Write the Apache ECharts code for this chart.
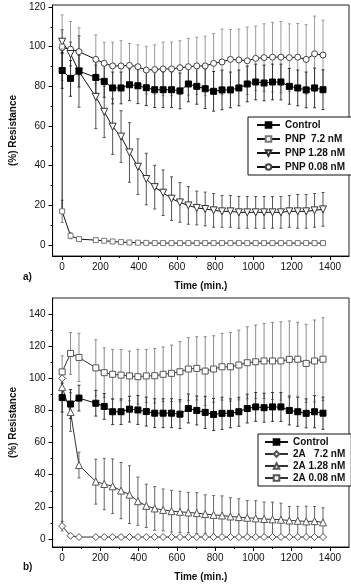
<!DOCTYPE html>
<html>
<head>
<meta charset="utf-8">
<script src="https://cdn.jsdelivr.net/npm/echarts@6/dist/echarts.min.js"></script>
<style>
html, body { margin: 0; padding: 0; background: #fff; }
#chart { width: 351px; height: 584px; }
</style>
</head>
<body>
<div id="chart"></div>
<script>
// sampling times (min.)
const times = [0, 44, 88, 176, 220, 264, 308, 352, 396, 440, 484, 528, 572, 616, 660, 704,
  748, 792, 836, 880, 924, 968, 1012, 1056, 1100, 1144, 1188, 1232, 1276, 1320, 1364];

// control (same in both panels)
const ctrl = [88, 84, 87.7, 84.5, 82.5, 79.2, 79.2, 80.8, 80.3, 79.3, 78.3, 78.3, 78.3, 77.7, 81.2, 80,
  78.8, 77.5, 78.2, 78.2, 79.2, 81.2, 82.2, 81.7, 82.2, 82.2, 80, 79.2, 78.2, 79.2, 78.3];
const ctrlErr = [9, 9, 8, 8, 8, 8, 8, 8, 9, 9, 9, 9, 9, 9, 9, 9, 10, 10, 10, 9, 9, 9, 9, 9, 9, 9, 9, 9, 9, 10, 10];

// panel a) PNP
const pnp72Start = 100;
const pnp72 = [17, 4.7, 3, 2.5, 2.2, 1.8, 1.5, 1.3, 1.2, 1.1, 1, 1, 1, 1, 1, 1,
  1, 1, 1, 1, 1, 1, 1, 1, 1, 1, 1, 1, 1, 1, 1];
const pnp72Err = [5.6, 1.5, 1, 0.8, 0.8, 0.6, 0.5, 0.5, 0.5, 0.5, 0.5, 0.5, 0.5, 0.5, 0.5, 0.5,
  0.5, 0.5, 0.5, 0.5, 0.5, 0.5, 0.5, 0.5, 0.5, 0.5, 0.5, 0.5, 0.5, 0.5, 0.5];
const pnp128 = [102.5, 96.3, 87.5, 74.7, 67.2, 59.7, 54.7, 46.7, 39.5, 33.3, 29.2, 26.4, 23.4, 21.5, 20, 18.7,
  18.2, 17.5, 17, 17, 16.5, 16.5, 16.5, 16.5, 16.5, 16.5, 17, 17, 17, 17.5, 18];
const pnp128Err = [6, 6, 18, 16, 13, 14, 13, 15, 14, 13, 11, 11.5, 11, 10, 9.5, 8.5,
  8.5, 8.5, 8, 8, 8, 8, 8, 8, 8, 8, 8, 8.5, 8.5, 8.5, 8.5];
const pnp008 = [99.5, 98.7, 97.5, 93.6, 91.6, 90.3, 90.3, 90.6, 89.9, 88.2, 88.5, 88.8, 88.8, 89.4, 89.9, 90.3,
  90.3, 91.6, 92.3, 93.6, 93.3, 92.9, 94.1, 94.5, 94.7, 94.7, 94.5, 94.7, 93.6, 96.4, 95.8];
const pnp008Err = [16.5, 14, 12, 12.3, 10.6, 12, 12.7, 11, 11, 12, 12.4, 13.5, 13.5, 13.6, 14.3, 14.4,
  15, 15, 16.5, 15, 15.5, 17, 16.3, 17, 17.5, 18, 17, 17, 17.5, 19, 17.5];

// panel b) 2A
const a72Start = 100;
const a72 = [8, 2, 1.2, 1.2, 1.2, 1.2, 1.2, 1.2, 1.2, 1.2, 1.2, 1.2, 1.2, 1.2, 1.2, 1.2,
  1.2, 1.2, 1.2, 1.2, 1.2, 1.2, 1.2, 1.2, 1.2, 1.2, 1.2, 1.2, 1.2, 1.2, 1.2];
const a72Err = [3, 1.2, 0.5, 0.5, 0.5, 0.5, 0.5, 0.5, 0.5, 0.5, 0.5, 0.5, 0.5, 0.5, 0.5, 0.5,
  0.5, 0.5, 0.5, 0.5, 0.5, 0.5, 0.5, 0.5, 0.5, 0.5, 0.5, 0.5, 0.5, 0.5, 0.5];
const a128 = [94.5, 79, 46, 35.7, 34.2, 32.8, 30.1, 27.6, 23.5, 20.6, 19, 18.1, 17.3, 16.9, 16.5, 16.1,
  15.5, 15, 14.6, 14, 13.6, 13.2, 12.8, 12.4, 12.2, 12, 11.5, 11.3, 10.9, 11.1, 10.3];
const a128Err = [5, 12, 8, 14, 16, 17, 17.5, 18, 15, 13.5, 13.6, 13, 13, 12.8, 12.5, 12.7,
  12, 12, 12.2, 11.6, 11.4, 10.7, 11, 10.6, 10.7, 10.3, 8.7, 9, 9.5, 9.1, 9.1];
const a008 = [104, 115.5, 113, 106.5, 103.5, 102.5, 102, 101.5, 101, 101.5, 101.6, 102.5, 103.1, 104.1, 105.8, 106.2,
  104.5, 105.8, 107.2, 107.2, 108.3, 109.7, 110.3, 110.8, 110.8, 110.8, 111.8, 111.9, 109.3, 110.8, 111.9];
const a008Err = [10, 13, 15, 17.5, 15.5, 15.5, 16, 15.5, 17, 16.5, 17, 17, 17.6, 18.7, 19.5, 19.7,
  21.4, 20.7, 20.8, 21.4, 21.7, 22.4, 22.9, 23.4, 24, 24.4, 23.9, 23, 24.3, 25.5, 25.8];

// axis ticks
const xLabels = [0, 200, 400, 600, 800, 1000, 1200, 1400];
const xMinor = [100, 300, 500, 700, 900, 1100, 1300];
const yLabelsA = [0, 20, 40, 60, 80, 100, 120];
const yMinorA = [10, 30, 50, 70, 90, 110];
const yLabelsB = [0, 20, 40, 60, 80, 100, 120, 140];
const yMinorB = [10, 30, 50, 70, 90, 110, 130];

const FONT = 'Liberation Sans';

function pts(vals) {
  return times.map((t, i) => [t, vals[i]]);
}
function bars(vals, errs) {
  return times.map((t, i) => [t, vals[i] - errs[i], vals[i] + errs[i]]);
}

// each panel has two x axes and two y axes (major + minor ticks)
function errSeries(idx, data, color) {
  return {
    type: 'custom',
    xAxisIndex: idx * 2,
    yAxisIndex: idx * 2,
    data: data,
    z: 1,
    silent: true,
    renderItem: function (params, api) {
      const lo = api.coord([api.value(0), api.value(1)]);
      const hi = api.coord([api.value(0), api.value(2)]);
      const w = 1.5;
      const st = { stroke: color, lineWidth: 1 };
      return {
        type: 'group',
        children: [
          { type: 'line', shape: { x1: lo[0], y1: lo[1], x2: hi[0], y2: hi[1] }, style: st },
          { type: 'line', shape: { x1: lo[0] - w, y1: lo[1], x2: lo[0] + w, y2: lo[1] }, style: st },
          { type: 'line', shape: { x1: hi[0] - w, y1: hi[1], x2: hi[0] + w, y2: hi[1] }, style: st }
        ]
      };
    }
  };
}

function lineSeries(idx, name, data, symbol, fill, border, lineColor, size, rotate) {
  return {
    type: 'line',
    name: name,
    xAxisIndex: idx * 2,
    yAxisIndex: idx * 2,
    data: data,
    symbol: symbol,
    symbolSize: size,
    symbolRotate: rotate || 0,
    showAllSymbol: true,
    z: 3,
    lineStyle: { color: lineColor, width: 1 },
    itemStyle: { color: fill, borderColor: border, borderWidth: 1 }
  };
}

function xAxes(gi) {
  return [{
    type: 'value', gridIndex: gi, min: -50, max: 1500,
    name: 'Time (min.)', nameLocation: 'middle', nameGap: 25,
    nameTextStyle: { fontFamily: FONT, fontSize: 10, fontWeight: 'bold', color: '#111' },
    axisLine: { onZero: false, lineStyle: { color: '#000', width: 1 } },
    axisTick: { inside: false, customValues: xLabels, length: 4, lineStyle: { color: '#000' } },
    axisLabel: { customValues: xLabels, margin: 6, fontFamily: FONT, fontSize: 10, color: '#111',
      formatter: v => String(v) },
    splitLine: { show: false }
  }, {
    type: 'value', gridIndex: gi, min: -50, max: 1500, position: 'bottom',
    axisLine: { show: false, onZero: false },
    axisTick: { inside: false, customValues: xMinor, length: 2, lineStyle: { color: '#000' } },
    axisLabel: { show: false },
    splitLine: { show: false }
  }];
}

function yAxes(gi, min, max, labels, minor) {
  return [{
    type: 'value', gridIndex: gi, min: min, max: max, position: 'left',
    name: '(%) Resistance', nameLocation: 'middle', nameGap: 33,
    nameTextStyle: { fontFamily: FONT, fontSize: 10, fontWeight: 'bold', color: '#111' },
    axisLine: { show: true, onZero: false, lineStyle: { color: '#000', width: 1 } },
    axisTick: { show: true, inside: false, customValues: labels, length: 4, lineStyle: { color: '#000' } },
    axisLabel: { customValues: labels, margin: 7, fontFamily: FONT, fontSize: 10, color: '#111' },
    splitLine: { show: false }
  }, {
    type: 'value', gridIndex: gi, min: min, max: max, position: 'left', offset: 0,
    axisLine: { show: false, onZero: false },
    axisTick: { show: true, inside: false, customValues: minor, length: 2, lineStyle: { color: '#000' } },
    axisLabel: { show: false },
    splitLine: { show: false }
  }];
}

const legendText = { fontFamily: FONT, fontSize: 10, fontWeight: 'bold', color: '#111' };

const chart = echarts.init(document.getElementById('chart'), null, { renderer: 'canvas' });

const option = {
  animation: false,
  backgroundColor: '#fff',
  grid: [
    { left: 41, top: 5, width: 308, height: 251, show: true, borderColor: '#222', borderWidth: 1 },
    { left: 41, top: 298, width: 308, height: 249, show: true, borderColor: '#222', borderWidth: 1 }
  ],
  xAxis: xAxes(0).concat(xAxes(1)),
  yAxis: yAxes(0, -5.5, 121, yLabelsA, yMinorA).concat(yAxes(1, -5, 150, yLabelsB, yMinorB)),
  legend: [{
    left: 248, top: 117, orient: 'vertical',
    data: ['Control', 'PNP  7.2 nM', 'PNP 1.28 nM', 'PNP 0.08 nM'],
    itemWidth: 23, itemHeight: 7, itemGap: 4,
    padding: [3, 12, 3, 8],
    borderColor: '#111', borderWidth: 1, backgroundColor: '#fff',
    textStyle: legendText, selectedMode: false
  }, {
    left: 258, top: 434, orient: 'vertical',
    data: ['Control', '2A   7.2 nM', '2A 1.28 nM', '2A 0.08 nM'],
    itemWidth: 23, itemHeight: 7, itemGap: 2,
    padding: [3, 6, 3, 6],
    borderColor: '#111', borderWidth: 1, backgroundColor: '#fff',
    textStyle: legendText, selectedMode: false
  }],
  graphic: [
    { type: 'text', left: 23, top: 272, style: { text: 'a)', font: 'bold 10px "Liberation Sans"', fill: '#111' } },
    { type: 'text', left: 23, top: 562, style: { text: 'b)', font: 'bold 10px "Liberation Sans"', fill: '#111' } }
  ],
  series: [
    // panel a
    errSeries(0, bars(pnp008, pnp008Err), '#9a9a9a'),
    errSeries(0, bars(pnp128, pnp128Err), '#555'),
    errSeries(0, bars(ctrl, ctrlErr), '#333'),
    errSeries(0, bars(pnp72, pnp72Err), '#777'),
    lineSeries(0, 'PNP 0.08 nM', pts(pnp008), 'circle', '#fff', '#444', '#111', 6),
    lineSeries(0, 'PNP 1.28 nM', pts(pnp128), 'triangle', '#fff', '#333', '#111', 7, 180),
    lineSeries(0, 'PNP  7.2 nM', [[0, pnp72Start]].concat(pts(pnp72)), 'rect', '#fff', '#777', '#111', 5),
    lineSeries(0, 'Control', pts(ctrl), 'rect', '#000', '#000', '#111', 6),
    // panel b
    errSeries(1, bars(a008, a008Err), '#8a8a8a'),
    errSeries(1, bars(a128, a128Err), '#666'),
    errSeries(1, bars(ctrl, ctrlErr), '#333'),
    errSeries(1, bars(a72, a72Err), '#777'),
    lineSeries(1, '2A 0.08 nM', pts(a008), 'rect', '#fff', '#555', '#333', 6),
    lineSeries(1, '2A 1.28 nM', pts(a128), 'triangle', '#fff', '#555', '#333', 7),
    lineSeries(1, '2A   7.2 nM', [[0, a72Start]].concat(pts(a72)), 'diamond', '#fff', '#555', '#333', 7),
    lineSeries(1, 'Control', pts(ctrl), 'rect', '#000', '#000', '#111', 6)
  ]
};

chart.setOption(option);
</script>
</body>
</html>
